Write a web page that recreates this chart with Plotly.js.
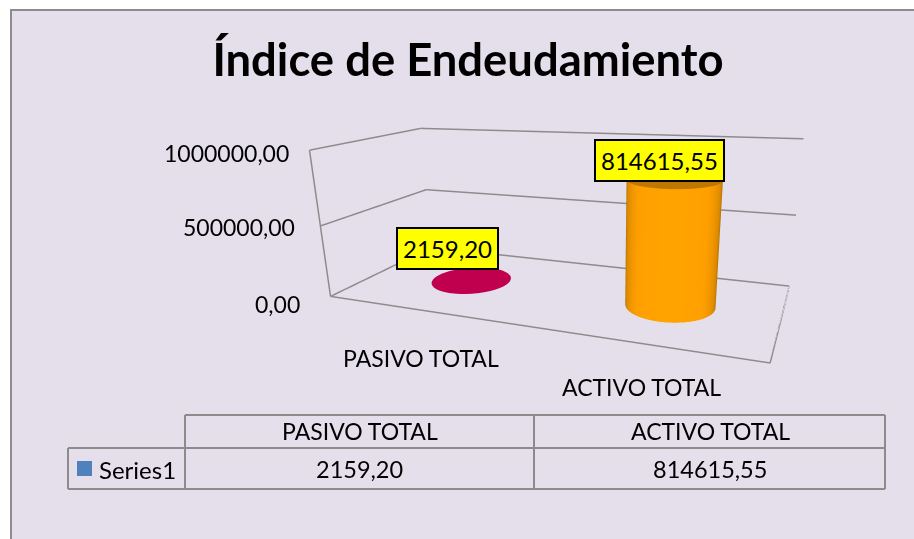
<!DOCTYPE html>
<html><head><meta charset="utf-8">
<script src="https://cdn.plot.ly/plotly-3.0.1.min.js"></script>
<style>html,body{margin:0;padding:0;background:#fff;overflow:hidden}#c{width:914px;height:539px}</style></head>
<body><div id="c"></div>
<script>
const categories=['PASIVO TOTAL','ACTIVO TOTAL'];
const valueLabels=['2159,20','814615,55'];
const values=[2159.20,814615.55];
const seriesName='Series1';
const ticks=[0,500000,1000000];
const tickText=['0,00','500000,00','1000000,00'];

const W=914,H=539,FONT='Lato',TS=23,GRID='#8C8C8C',BG='#E5DFEC';
const px=v=>v/W, py=v=>1-v/H;
const xR=[-0.5,1.5], yR=[-0.5,0.5], zMax=1000000, aspect={x:2,y:0.8534,z:0.6892};
const catX=[0.02,1.03];
const R=0.197, RY=R/aspect.y, lightAngle=-1.35;
const bodyScales=[
 [[0,'#C0004F'],[1,'#C0004F']],
 [[0,'#7E5000'],[0.45,'#D88800'],[0.8,'#FF9F00'],[1,'#FFA300']]
];
const capColors=['#C0004F','#BE7700'];

function line(x,y,z){return {type:'scatter3d',mode:'lines',x,y,z,line:{color:GRID,width:3},hoverinfo:'skip',showlegend:false};}
function cylinder(i){
 const n=72,xs=[[],[]],ys=[[],[]],zs=[[],[]],col=[[],[]];
 for(let k=0;k<=n;k++){
  const t=2*Math.PI*k/n,a=catX[i]+R*Math.cos(t),b=RY*Math.sin(t);
  const s=Math.pow(Math.max(0,Math.cos(t-lightAngle)),0.7);
  [0,1].forEach(j=>{xs[j].push(a);ys[j].push(b);zs[j].push(j?values[i]:0);col[j].push(s);});
 }
 const common={type:'surface',showscale:false,hoverinfo:'skip',lighting:{ambient:1,diffuse:0,specular:0,fresnel:0,roughness:1}};
 return [
  Object.assign({x:xs,y:ys,z:zs,surfacecolor:col,cmin:0,cmax:1,colorscale:bodyScales[i]},common),
  Object.assign({x:[xs[1].map(()=>catX[i]),xs[1]],y:[ys[1].map(()=>0),ys[1]],z:[zs[1],zs[1]],surfacecolor:[col[1].map(()=>0),col[1].map(()=>0)],cmin:0,cmax:1,colorscale:[[0,capColors[i]],[1,capColors[i]]]},common)
 ];
}
const data=[
 line([xR[0],xR[0]],[yR[0],yR[0]],[0,zMax]),
 line([xR[0],xR[1],xR[1]],[yR[0],yR[0],yR[1]],[0,0,0]),
 ...ticks.map(t=>line([xR[0],xR[0],xR[1]],[yR[0],yR[1],yR[1]],[t,t,t])),
 ...cylinder(0),...cylinder(1)
];
const noAxis=r=>({range:r,autorange:false,showgrid:false,zeroline:false,showline:false,showticklabels:false,ticks:'',showbackground:false,showspikes:false,title:{text:''}});

const tickDX=[-29,-23,-19], tickDY=[-8,-1,-3];
const catDX=[-2,-2], catDY=[-48,-43];
const boxDX=[-24.5,-15], boxDY=[10,-2];
const sceneAnn=[
 ...ticks.map((t,i)=>({x:xR[0],y:yR[0],z:t,text:tickText[i],showarrow:false,xanchor:'right',yanchor:'middle',xshift:tickDX[i],yshift:tickDY[i],font:{family:FONT,size:TS,color:'#000'}})),
 ...categories.map((c,i)=>({x:catX[i],y:yR[0],z:0,text:c,showarrow:false,xanchor:'center',yanchor:'middle',xshift:catDX[i],yshift:catDY[i],font:{family:FONT,size:23,color:'#000'}})),
 ...values.map((v,i)=>({x:catX[i],y:0,z:v,text:valueLabels[i],showarrow:false,xanchor:'center',yanchor:'bottom',xshift:boxDX[i],yshift:boxDY[i],
   bgcolor:'#FFFF00',bordercolor:'#000',borderwidth:2,borderpad:5,font:{family:FONT,size:24,color:'#000'}}))
];

const hl=(x0,x1,y)=>({type:'line',xref:'paper',yref:'paper',x0:px(x0),x1:px(x1),y0:py(y),y1:py(y),line:{color:GRID,width:2}});
const vl=(x,y0,y1)=>({type:'line',xref:'paper',yref:'paper',x0:px(x),x1:px(x),y0:py(y0),y1:py(y1),line:{color:GRID,width:2}});
const shapes=[
 {type:'rect',layer:'below',xref:'paper',yref:'paper',x0:px(11),x1:px(W+5),y0:py(10),y1:py(H+5),fillcolor:BG,line:{color:'#8C8C8C',width:2}},
 hl(185,885,415),hl(68,885,448),hl(68,885,489),
 vl(68,448,489),vl(185,415,489),vl(534,415,489),vl(885,415,489),
 {type:'rect',xref:'paper',yref:'paper',x0:px(77),x1:px(92),y0:py(461),y1:py(476),fillcolor:'#4F81BD',line:{width:0}}
];
const cellX=[359.5,710];
const cell=(x,y,t,a,s)=>({xref:'paper',yref:'paper',x:px(x),y:py(y),text:t,showarrow:false,xanchor:a||'center',yanchor:'middle',font:{family:FONT,size:s,color:'#000'}});
const annotations=[
 ...categories.map((c,i)=>cell(cellX[i],431,c,'center',23)),
 ...valueLabels.map((c,i)=>cell(cellX[i],469,c,'center',23.5)),
 cell(97,469,seriesName,'left',24)
];
const layout={width:W,height:H,margin:{l:0,r:0,t:0,b:0,pad:0},paper_bgcolor:'rgba(0,0,0,0)',plot_bgcolor:'rgba(0,0,0,0)',showlegend:false,
 title:{text:'Índice de Endeudamiento',x:468/W,xanchor:'center',y:py(60),yanchor:'middle',font:{family:FONT,size:45.4,color:'#000',weight:700}},
 scene:{domain:{x:[0.2495,0.976],y:[0,1]},bgcolor:'rgba(0,0,0,0)',
  xaxis:noAxis(xR),yaxis:noAxis(yR),zaxis:noAxis([0,zMax]),
  aspectmode:'manual',aspectratio:aspect,
  camera:{eye:{x:1.1448,y:-2.6533,z:0.7333},center:{x:0.0575,y:-0.1244,z:-0.19},up:{x:0.0701,y:-0.1093,z:1},projection:{type:'perspective'}},
  annotations:sceneAnn},
 shapes,annotations
};
Plotly.newPlot('c',data,layout,{displayModeBar:false});
</script></body></html>
